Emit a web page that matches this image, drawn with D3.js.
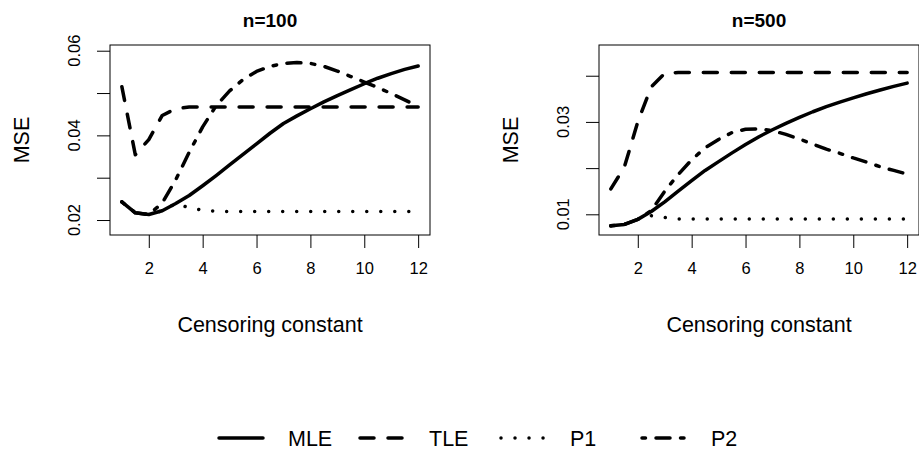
<!DOCTYPE html>
<html>
<head>
<meta charset="utf-8">
<script src="https://cdn.jsdelivr.net/npm/d3@7"></script>
<style>
    body { margin: 0; background: white; }
    svg text { font-family: "Liberation Sans", Arial, sans-serif; fill: black; }
</style>
</head>
<body>
<div id="chart"></div>
<script>
// censoring constants (x grid)
const censConst = [1, 1.5, 2, 2.5, 3, 3.5, 4, 4.5, 5, 5.5, 6, 6.5, 7, 7.5, 8, 8.5, 9, 9.5, 10, 10.5, 11, 11.5, 12];

// n = 100
const mle100 = [0.0243, 0.0217, 0.0213, 0.0222, 0.0239, 0.0258, 0.0281, 0.0305, 0.0330, 0.0355, 0.0380, 0.0405, 0.0428, 0.0446, 0.0463, 0.0479, 0.0494, 0.0508, 0.0522, 0.0535, 0.0546, 0.0556, 0.0564];
const tle100 = [0.0515, 0.0354, 0.0390, 0.0447, 0.0463, 0.0467, 0.0467, 0.0467, 0.0467, 0.0467, 0.0467, 0.0467, 0.0467, 0.0467, 0.0467, 0.0467, 0.0467, 0.0467, 0.0467, 0.0467, 0.0467, 0.0467, 0.0467];
const p1_100 = [0.0243, 0.0217, 0.0213, 0.0222, 0.0239, 0.0229, 0.0223, 0.0221, 0.0220, 0.0220, 0.0220, 0.0220, 0.0220, 0.0220, 0.0220, 0.0220, 0.0220, 0.0220, 0.0220, 0.0220, 0.0220, 0.0220, 0.0220];
const p2_100 = [0.0243, 0.0217, 0.0213, 0.0240, 0.0295, 0.0360, 0.0420, 0.0470, 0.0505, 0.0532, 0.0551, 0.0563, 0.0570, 0.0572, 0.0570, 0.0563, 0.0552, 0.0539, 0.0526, 0.0513, 0.0499, 0.0484, 0.0468];

// n = 500
const mle500 = [0.0075, 0.0078, 0.0089, 0.0106, 0.0127, 0.0150, 0.0173, 0.0195, 0.0214, 0.0233, 0.0251, 0.0268, 0.0283, 0.0297, 0.0310, 0.0322, 0.0333, 0.0343, 0.0352, 0.0361, 0.0369, 0.0377, 0.0384];
const tle500 = [0.0155, 0.0202, 0.0300, 0.0376, 0.0405, 0.0407, 0.0407, 0.0407, 0.0407, 0.0407, 0.0407, 0.0407, 0.0407, 0.0407, 0.0407, 0.0407, 0.0407, 0.0407, 0.0407, 0.0407, 0.0407, 0.0407, 0.0407];
const p1_500 = [0.0075, 0.0078, 0.0089, 0.0097, 0.0093, 0.0090, 0.0090, 0.0090, 0.0090, 0.0090, 0.0090, 0.0090, 0.0090, 0.0090, 0.0090, 0.0090, 0.0090, 0.0090, 0.0090, 0.0090, 0.0090, 0.0090, 0.0090];
const p2_500 = [0.0075, 0.0078, 0.0089, 0.0108, 0.0150, 0.0186, 0.0218, 0.0244, 0.0262, 0.0277, 0.0284, 0.0285, 0.0281, 0.0273, 0.0263, 0.0252, 0.0241, 0.0232, 0.0222, 0.0213, 0.0203, 0.0195, 0.0187];

// axis ticks
const xTicks = [2, 4, 6, 8, 10, 12];
const yTicks100 = [0.02, 0.03, 0.04, 0.05, 0.06];
const yLabels100 = [0.02, 0.04, 0.06];
const yTicks500 = [0.01, 0.02, 0.03, 0.04];
const yLabels500 = [0.01, 0.03];

// legend
const methods = ["MLE", "TLE", "P1", "P2"];
const dashes = {MLE: null, TLE: "14,14", P1: "0.01,14", P2: "3.5,10.5,14,10.5"};

const W = 919, H = 452;
const svg = d3.select("#chart").append("svg")
    .attr("width", W)
    .attr("height", H);

function drawPanel(opts) {
    let g = svg.append("g");

    let x = d3.scaleLinear().domain([0.56, 12.44]).range([opts.left, opts.left + 320]);
    let y = d3.scaleLinear().domain(opts.yDomain).range([235, 45]);

    // box
    g.append("rect")
        .attr("x", opts.left).attr("y", 45)
        .attr("width", 320).attr("height", 190)
        .attr("fill", "none").attr("stroke", "black").attr("stroke-width", 1);

    // x axis
    let xAxis = g.append("g").attr("transform", "translate(0,235)")
        .call(d3.axisBottom(x).tickValues(xTicks).tickSize(13).tickPadding(14).tickFormat(d3.format("d")));
    xAxis.select(".domain").remove();
    xAxis.selectAll("text").style("font-size", "16.5px").attr("font-family", null);

    // y axis (ticks, then rotated labels)
    let yAxis = g.append("g").attr("transform", `translate(${opts.left},0)`)
        .call(d3.axisLeft(y).tickValues(opts.yTicks).tickSize(13).tickFormat(""));
    yAxis.select(".domain").remove();

    g.selectAll(".ylab")
        .data(opts.yLabels)
        .enter().append("text")
        .attr("class", "ylab")
        .attr("transform", d => `translate(${opts.left - 30},${y(d)}) rotate(-90)`)
        .attr("text-anchor", "middle")
        .style("font-size", "16.5px")
        .text(d => d3.format(".2f")(d));

    // titles
    g.append("text")
        .attr("x", opts.left + 160).attr("y", 27)
        .attr("text-anchor", "middle")
        .style("font-size", "19px").style("font-weight", "bold")
        .text(opts.title);

    g.append("text")
        .attr("x", opts.left + 160).attr("y", 332)
        .attr("text-anchor", "middle")
        .style("font-size", "21.5px")
        .text("Censoring constant");

    g.append("text")
        .attr("transform", `translate(${opts.left - 81},140) rotate(-90)`)
        .attr("text-anchor", "middle")
        .style("font-size", "21.5px")
        .text("MSE");

    // lines
    let line = d3.line()
        .x((d, i) => x(censConst[i]))
        .y(d => y(d));

    methods.forEach((m, k) => {
        g.append("path")
            .datum(opts.series[k])
            .attr("d", line)
            .attr("fill", "none")
            .attr("stroke", "black")
            .attr("stroke-width", 3.5)
            .attr("stroke-linecap", "round")
            .attr("stroke-linejoin", "round")
            .attr("stroke-dasharray", dashes[m]);
    });
}

drawPanel({
    left: 110, title: "n=100",
    yDomain: [0.01646, 0.06135],
    yTicks: yTicks100, yLabels: yLabels100,
    series: [mle100, tle100, p1_100, p2_100]
});

drawPanel({
    left: 599, title: "n=500",
    yDomain: [0.00552, 0.04665],
    yTicks: yTicks500, yLabels: yLabels500,
    series: [mle500, tle500, p1_500, p2_500]
});

// legend
let legend = svg.append("g").attr("transform", "translate(217,438)");
let items = legend.selectAll("g")
    .data(methods)
    .enter().append("g")
    .attr("transform", (d, i) => `translate(${i * 141},0)`);

items.append("line")
    .attr("x1", 2).attr("x2", 46)
    .attr("y1", 0).attr("y2", 0)
    .attr("stroke", "black")
    .attr("stroke-width", 3.5)
    .attr("stroke-linecap", "round")
    .attr("stroke-dasharray", d => dashes[d]);

items.append("text")
    .attr("x", 71).attr("y", 7.5)
    .style("font-size", "21.5px")
    .text(d => d);
</script>
</body>
</html>
